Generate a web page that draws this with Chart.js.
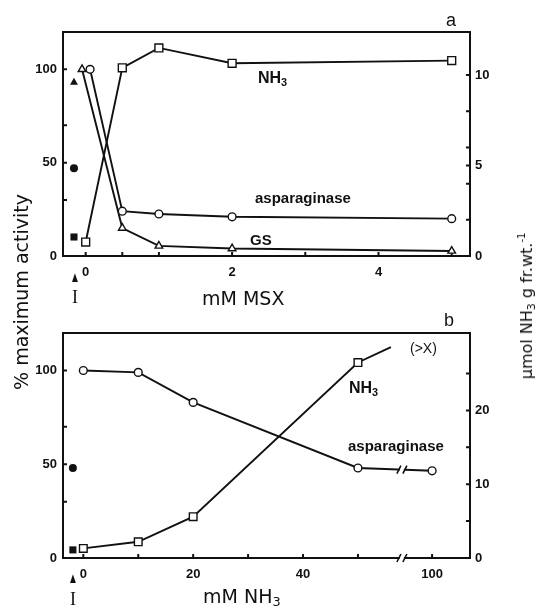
<!DOCTYPE html>
<html>
<head>
<meta charset="utf-8">
<script src="https://cdn.jsdelivr.net/npm/chart.js@4.4.1/dist/chart.umd.min.js"></script>
<style>
  body { margin: 0; background: #fff; }
  #figure { position: relative; width: 541px; height: 615px; font-family: 'Liberation Sans', Arial, sans-serif; color: #111; }
  #figure canvas { position: absolute; left: 0; }
  .lbl { position: absolute; white-space: nowrap; line-height: 1; transform: translateY(-50%); }
  .series { font-weight: bold; font-size: 15px; }
  .axis-title { font-family: 'DejaVu Sans', sans-serif; font-size: 19px; }
  .panel { font-size: 18px; }
  .rot { position: absolute; white-space: nowrap; line-height: 1; transform: translate(-50%, -50%) rotate(-90deg); }
  .mark { position: absolute; line-height: 1; transform: translate(-50%, -50%); }
  sub { font-size: 68%; vertical-align: -0.3em; line-height: 0; }
  sup { font-size: 62%; vertical-align: 0.7em; line-height: 0; }
</style>
</head>
<body>
<div id="figure">
  <canvas id="msxChart" width="541" height="305" style="top:0"></canvas>
  <canvas id="nhChart" width="541" height="310" style="top:305px"></canvas>

  <div class="lbl panel" style="left:446px; top:20px">a</div>
  <div class="lbl panel" style="left:444px; top:320px">b</div>

  <div class="lbl series" style="left:258px; top:78px; font-size:16px">NH<sub>3</sub></div>
  <div class="lbl series" style="left:255px; top:197px">asparaginase</div>
  <div class="lbl series" style="left:250px; top:239px">GS</div>

  <div class="lbl series" style="left:349px; top:388px; font-size:16px">NH<sub>3</sub></div>
  <div class="lbl series" style="left:348px; top:445px">asparaginase</div>
  <div class="lbl" style="left:410px; top:348px; font-size:14px">(&gt;X)</div>

  <div class="lbl axis-title" style="left:202px; top:298px">mM MSX</div>
  <div class="lbl axis-title" style="left:203px; top:596px">mM NH<sub>3</sub></div>

  <div class="rot axis-title" style="left:21px; top:292px">% maximum activity</div>
  <div class="rot axis-title" style="left:527px; top:306px; font-size:16px">µmol NH<sub>3</sub> g fr.wt.<sup>-1</sup></div>

  <div class="mark" style="left:75px; top:277px; font-size:10px; transform:translate(-50%,-50%) scaleY(1.5)">▲</div>
  <div class="mark" style="left:75px; top:297px; font-family:'Liberation Serif', serif; font-size:18px">I</div>
  <div class="mark" style="left:73px; top:578px; font-size:10px; transform:translate(-50%,-50%) scaleY(1.5)">▲</div>
  <div class="mark" style="left:73px; top:599px; font-family:'Liberation Serif', serif; font-size:18px">I</div>
</div>

<script>
// panel a: MSX concentration (mM)
const msxDoses = [0, 0.5, 1, 2, 5];
const msxGsDoses = [-0.05, 0.5, 1, 2, 5];
const msxAspDoses = [0.06, 0.5, 1, 2, 5];
const msxNh3 = [0.77, 10.4, 11.5, 10.65, 10.8];      // µmol NH3 / g fr.wt.
const msxAsparaginase = [100, 24, 22.5, 21, 20];     // % max activity
const msxGs = [100, 15, 5.4, 4, 2.7];
const msxControlX = -0.16;
const msxControlPct = [93, 47];                      // GS, asparaginase
const msxControlNh3 = 1.05;
const msxTicks = [0, 0.5, 1, 2, 3, 4, 5];
const msxTickLabels = [0, 2, 4];
const msxUmolTicks = [0, 2, 4, 5, 6, 8, 10];
const msxUmolLabels = [0, 5, 10];

// panel b: NH3 concentration (mM), axis broken between 50 and 100
const nhDoses = [0, 10, 20, 50, 100];
const nhAsparaginase = [100, 99, 83, 48, 46.5];
const nhNh3Doses = [0, 10, 20, 50, 56];
const nhNh3 = [1.3, 2.2, 5.6, 26.5, 28.6];
const nhControlX = -1.9;
const nhControlPct = [48];
const nhControlNh3 = 1.1;
const nhTicks = [0, 10, 20, 30, 40, 50, 100];
const nhTickLabels = [0, 20, 40, 100];
const nhUmolTicks = [0, 5, 10, 15, 20, 25];
const nhUmolLabels = [0, 10, 20];

const pctTicks = [0, 30, 50, 70, 100];
const pctTickLabels = [0, 50, 100];

// broken x axis: values past the break are shifted left
const BREAK_AT = 58;
const BREAK_SHIFT = 36.5;
const brk = v => v > BREAK_AT ? v - BREAK_SHIFT : v;
const unbrk = p => p > BREAK_AT ? Math.round(p + BREAK_SHIFT) : p;

const INK = '#111';
const tickFont = { family: "'Liberation Sans', Arial, sans-serif", size: 13, weight: 'bold' };

const framePlugin = {
    id: 'frame',
    beforeDatasetsDraw(chart) {
        const { ctx, chartArea: a, scales } = chart;
        ctx.save();
        ctx.strokeStyle = INK;
        ctx.lineWidth = 2;
        ctx.strokeRect(a.left, a.top, a.right - a.left, a.bottom - a.top);
        ctx.beginPath();
        scales.x.ticks.forEach(t => {
            const px = scales.x.getPixelForValue(t.value);
            ctx.moveTo(px, a.bottom); ctx.lineTo(px, a.bottom - 4);
        });
        scales.y.ticks.forEach(t => {
            const py = scales.y.getPixelForValue(t.value);
            ctx.moveTo(a.left, py); ctx.lineTo(a.left + 4, py);
        });
        scales.y2.ticks.forEach(t => {
            const py = scales.y2.getPixelForValue(t.value);
            ctx.moveTo(a.right, py); ctx.lineTo(a.right - 4, py);
        });
        ctx.stroke();
        ctx.restore();
    },
    afterDatasetsDraw(chart, args, opts) {
        if (opts.breakAt === undefined) return;
        const { ctx, chartArea: a, scales } = chart;
        const bx = scales.x.getPixelForValue(opts.breakAt);
        const slashes = (y) => {
            ctx.fillStyle = '#fff';
            ctx.fillRect(bx - 2, y - 3, 4, 6);
            ctx.beginPath();
            ctx.moveTo(bx - 5, y + 4); ctx.lineTo(bx - 1, y - 4);
            ctx.moveTo(bx + 1, y + 4); ctx.lineTo(bx + 5, y - 4);
            ctx.stroke();
        };
        ctx.save();
        ctx.strokeStyle = INK;
        ctx.lineWidth = 1.6;
        slashes(a.bottom);
        // break on the asparaginase line
        const pts = chart.getDatasetMeta(opts.lineDataset).data;
        const p0 = pts[pts.length - 2], p1 = pts[pts.length - 1];
        const y = p0.y + (p1.y - p0.y) * (bx - p0.x) / (p1.x - p0.x);
        slashes(y);
        ctx.restore();
    }
};

function pts(xs, ys, fx = v => v) {
    return xs.map((x, i) => ({ x: fx(x), y: ys[i] }));
}

function seriesStyle(style, radius, yAxisID) {
    return {
        yAxisID,
        borderColor: INK,
        borderWidth: 1.9,
        backgroundColor: '#fff',
        pointStyle: style,
        pointRadius: radius,
        pointBorderWidth: 1.4,
        pointBorderColor: INK,
        pointBackgroundColor: '#fff',
        tension: 0
    };
}

function controlStyle(styles, radius, yAxisID) {
    return {
        yAxisID,
        showLine: false,
        pointStyle: styles,
        pointRadius: radius,
        pointBorderWidth: 0,
        pointBackgroundColor: INK,
        borderColor: INK
    };
}

function makeChart(canvasId, cfg) {
    return new Chart(document.getElementById(canvasId), {
        type: 'line',
        data: { datasets: cfg.datasets },
        plugins: [framePlugin],
        options: {
            responsive: false,
            animation: false,
            layout: { padding: { top: cfg.top, left: 0, right: 0, bottom: 0 } },
            plugins: {
                legend: { display: false },
                tooltip: { enabled: false },
                frame: cfg.frame || {}
            },
            scales: {
                x: {
                    type: 'linear',
                    min: cfg.xMin,
                    max: cfg.xMax,
                    grid: { display: false },
                    border: { display: false },
                    afterBuildTicks: s => { s.ticks = cfg.xTicks.map(v => ({ value: v })); },
                    afterFit: s => { s.height = cfg.xHeight; },
                    ticks: {
                        autoSkip: false, maxRotation: 0, padding: 1,
                        color: INK, font: tickFont,
                        callback: cfg.xLabel
                    }
                },
                y: {
                    position: 'left',
                    min: 0,
                    max: 120,
                    grid: { display: false },
                    border: { display: false },
                    afterBuildTicks: s => { s.ticks = pctTicks.map(v => ({ value: v })); },
                    afterFit: s => { s.width = 63; },
                    ticks: {
                        padding: -2, color: INK, font: tickFont,
                        callback: v => pctTickLabels.includes(v) ? String(v) : ''
                    }
                },
                y2: {
                    position: 'right',
                    min: 0,
                    max: cfg.y2Max,
                    grid: { display: false },
                    border: { display: false },
                    afterBuildTicks: s => { s.ticks = cfg.y2Ticks.map(v => ({ value: v })); },
                    afterFit: s => { s.width = 71; },
                    ticks: {
                        padding: -3, color: INK, font: tickFont,
                        callback: v => cfg.y2Labels.includes(v) ? String(v) : ''
                    }
                }
            }
        }
    });
}

makeChart('msxChart', {
    top: 32,
    xHeight: 49,
    xMin: -0.31,
    xMax: 5.25,
    xTicks: msxTicks,
    xLabel: v => msxTickLabels.includes(v) ? String(v) : '',
    y2Max: 12.38,
    y2Ticks: msxUmolTicks,
    y2Labels: msxUmolLabels,
    datasets: [
        { label: 'NH3', data: pts(msxDoses, msxNh3), ...seriesStyle('rect', 5.6, 'y2') },
        { label: 'asparaginase', data: pts(msxAspDoses, msxAsparaginase), ...seriesStyle('circle', 3.9, 'y') },
        { label: 'GS', data: pts(msxGsDoses, msxGs), ...seriesStyle('triangle', 4.4, 'y') },
        { label: 'control %', data: pts([msxControlX, msxControlX], msxControlPct), ...controlStyle(['triangle', 'circle'], [4.6, 4], 'y') },
        { label: 'control NH3', data: [{ x: msxControlX, y: msxControlNh3 }], ...controlStyle('rect', 5, 'y2') }
    ]
});

makeChart('nhChart', {
    top: 28,
    xHeight: 57,
    xMin: -3.7,
    xMax: 70.4,
    xTicks: nhTicks.map(brk),
    xLabel: v => nhTickLabels.includes(unbrk(v)) ? String(unbrk(v)) : '',
    y2Max: 30.5,
    y2Ticks: nhUmolTicks,
    y2Labels: nhUmolLabels,
    frame: { breakAt: BREAK_AT, lineDataset: 1 },
    datasets: [
        { label: 'NH3', data: pts(nhNh3Doses, nhNh3, brk), ...seriesStyle('rect', [5.4, 5.4, 5.4, 5.4, 0], 'y2') },
        { label: 'asparaginase', data: pts(nhDoses, nhAsparaginase, brk), ...seriesStyle('circle', 3.9, 'y') },
        { label: 'control %', data: pts([nhControlX], nhControlPct), ...controlStyle('circle', 4, 'y') },
        { label: 'control NH3', data: [{ x: nhControlX, y: nhControlNh3 }], ...controlStyle('rect', 5, 'y2') }
    ]
});
</script>
</body>
</html>
